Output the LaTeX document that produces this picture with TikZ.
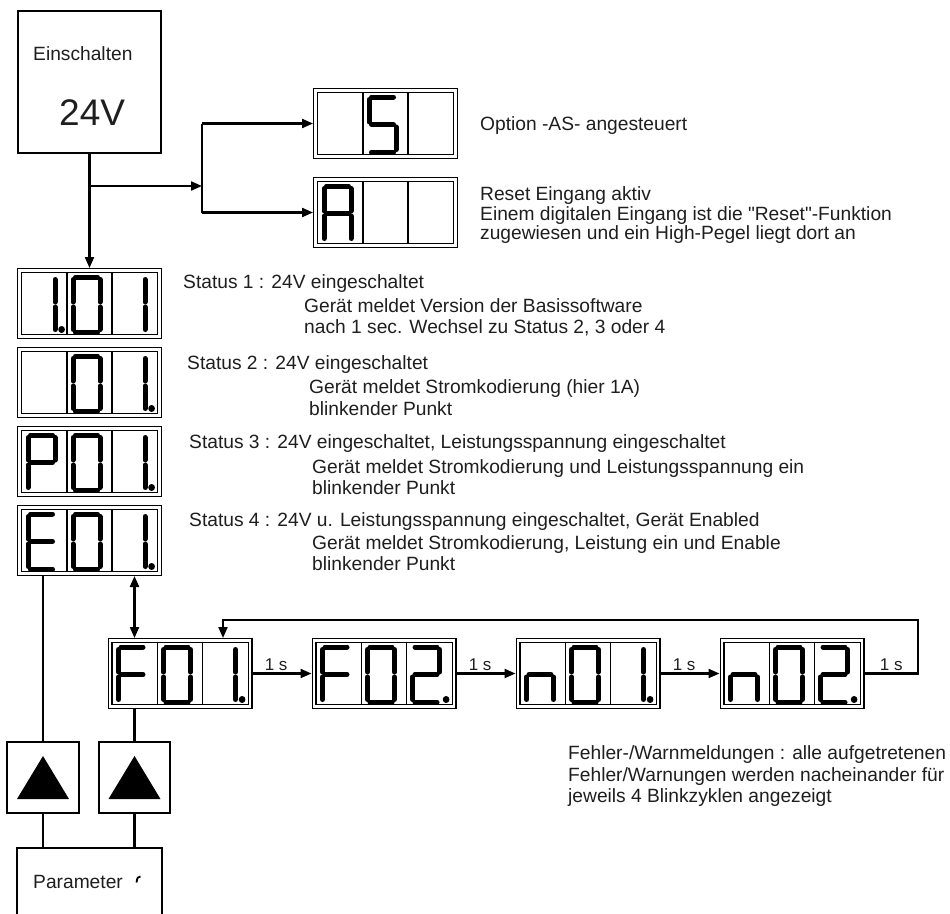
\documentclass[tikz,border=0pt]{standalone}
\usepackage{fontspec}
\setmainfont{Liberation Sans}
\usepackage{tikz}
\usetikzlibrary{arrows.meta, positioning}
\definecolor{labeltext}{RGB}{30,30,30}
\newcommand{\plainquote}{\XeTeXglyph\XeTeXcharglyph"22\relax}
\tikzset{
  disp/.style={draw, line width=1.3pt, double, double distance=2.4pt,
    minimum width=140pt, minimum height=66pt, inner sep=0pt, outer sep=2.5pt},
  box/.style={draw, line width=2pt, inner sep=0pt, outer sep=1pt},
  seg/.style={line width=5pt, line cap=round},
  segp/.style={line width=6.5pt},
  conn/.style={line width=2.1pt},
  arr/.style={conn, -{Triangle[length=11pt,width=9pt]}},
  dblarr/.style={conn, {Triangle[length=11pt,width=9pt]}-{Triangle[length=11pt,width=9pt]}},
  txt/.style={anchor=base west, inner sep=0pt, text=labeltext},
  lbl/.style={above, inner sep=1.5pt, font=\fontsize{17}{20}\selectfont, text=labeltext}
}
% one digit of a display: node, cell (0..2), segments
\newcommand{\segcell}[3]{%
  \begin{scope}[shift={(#1.center)}, shift={(-61.5+45*#2,-26.5)}]
    \coordinate (sa1) at (2.5,0);    \coordinate (sa2) at (24.5,0);
    \coordinate (sb1) at (27,2.5);   \coordinate (sb2) at (27,25);
    \coordinate (sc1) at (27,30);    \coordinate (sc2) at (27,52.5);
    \coordinate (sd1) at (2.5,55);   \coordinate (sd2) at (24.5,55);
    \coordinate (se1) at (0,30);     \coordinate (se2) at (0,52.5);
    \coordinate (sf1) at (0,2.5);    \coordinate (sf2) at (0,25);
    \coordinate (sg1) at (2.5,27.5); \coordinate (sg2) at (24.5,27.5);
    \coordinate (sp1) at (33.5,52.5);\coordinate (sp2) at (33.7,52.5);
    \foreach \s in {#3} {\draw[seg, seg\s/.try] (s\s1) -- (s\s2);}
  \end{scope}}

\begin{document}
\begin{tikzpicture}[x=1pt, y=-1pt, font=\fontsize{19.2}{22}\selectfont]
  \useasboundingbox (0,0) rectangle (950,913);
  \clip (0,0) rectangle (950,913);

  \node[box, minimum width=143pt, minimum height=142pt] (ein) at (89.5,82) {};
  \node[txt] (einT) at (33,60) {Einschalten};
  \node[txt, font=\fontsize{37}{40}\selectfont] (einV) at (59,125) {24V};

  \node[disp] (dS) at (385.5,123.5) {};
  \node[disp, below=18pt of dS] (dA) {};
  \node[disp] (d1) at (89.5,303.5) {};
  \node[disp, below=8pt of d1] (d2) {};
  \node[disp, below=8pt of d2] (d3) {};
  \node[disp, below=8pt of d3] (d4) {};
  \node[disp] (f1) at (180,673.5) {};
  \node[disp, right=59pt of f1] (f2) {};
  \node[disp, right=59pt of f2] (n1) {};
  \node[disp, right=59pt of n1] (n2) {};

  \foreach \d in {dS,dA,d1,d2,d3,d4,f1,f2,n1,n2} {
    \draw[line width=1.5pt] ([shift={(-22.5,-31)}]\d.center) -- ([shift={(-22.5,31)}]\d.center);
    \draw[line width=1.5pt] ([shift={(22.5,-31)}]\d.center) -- ([shift={(22.5,31)}]\d.center);
  }

  \segcell{dS}{1}{a,f,g,c,d}
  \segcell{dA}{0}{a,b,c,e,f,g}
  \segcell{d1}{0}{b,c,p} \segcell{d1}{1}{a,b,c,d,e,f} \segcell{d1}{2}{b,c}
  \segcell{d2}{1}{a,b,c,d,e,f} \segcell{d2}{2}{b,c,p}
  \segcell{d3}{0}{a,b,f,g,e} \segcell{d3}{1}{a,b,c,d,e,f} \segcell{d3}{2}{b,c,p}
  \segcell{d4}{0}{a,f,g,e,d} \segcell{d4}{1}{a,b,c,d,e,f} \segcell{d4}{2}{b,c,p}
  \segcell{f1}{0}{a,f,g,e} \segcell{f1}{1}{a,b,c,d,e,f} \segcell{f1}{2}{b,c,p}
  \segcell{f2}{0}{a,f,g,e} \segcell{f2}{1}{a,b,c,d,e,f} \segcell{f2}{2}{a,b,g,e,d,p}
  \segcell{n1}{0}{e,g,c} \segcell{n1}{1}{a,b,c,d,e,f} \segcell{n1}{2}{b,c,p}
  \segcell{n2}{0}{e,g,c} \segcell{n2}{1}{a,b,c,d,e,f} \segcell{n2}{2}{a,b,g,e,d,p}

  \node[txt] (tS) at (480,130) {Option -AS- angesteuert};
  \node[txt] (tA1) at (480,200) {Reset Eingang aktiv};
  \node[txt] (tA2) at (480,220) {Einem digitalen Eingang ist die \plainquote Reset\plainquote-Funktion};
  \node[txt] (tA3) at (480,239) {zugewiesen und ein High-Pegel liegt dort an};
  \node[txt] (t1a) at (183,288) {Status 1 : 24V eingeschaltet};
  \node[txt] (t1b) at (304,312) {Gerät meldet Version der Basissoftware};
  \node[txt] (t1c) at (304,333) {nach 1 sec. Wechsel zu Status 2, 3 oder 4};
  \node[txt] (t2a) at (187,369) {Status 2 : 24V eingeschaltet};
  \node[txt] (t2b) at (309,393) {Gerät meldet Stromkodierung (hier 1A)};
  \node[txt] (t2c) at (309,415) {blinkender Punkt};
  \node[txt] (t3a) at (189,448) {Status 3 : 24V eingeschaltet, Leistungsspannung eingeschaltet};
  \node[txt] (t3b) at (312,473) {Gerät meldet Stromkodierung und Leistungsspannung ein};
  \node[txt] (t3c) at (312,494) {blinkender Punkt};
  \node[txt] (t4a) at (189,526) {Status 4 : 24V u. Leistungsspannung eingeschaltet, Gerät Enabled};
  \node[txt] (t4b) at (312,549) {Gerät meldet Stromkodierung, Leistung ein und Enable};
  \node[txt] (t4c) at (312,570) {blinkender Punkt};
  \node[txt] (tF1) at (568,759) {Fehler-/Warnmeldungen : alle aufgetretenen};
  \node[txt] (tF2) at (568,781) {Fehler/Warnungen werden nacheinander für};
  \node[txt] (tF3) at (568,802) {jeweils 4 Blinkzyklen angezeigt};

  \node[box, minimum width=72pt, minimum height=71pt] (b1) at (43,777.5) {};
  \node[box, minimum width=71pt, minimum height=71pt] (b2) at (134.5,777.5) {};
  \foreach \b in {b1,b2}
    \fill[shift={(\b.center)}] (0,-21.5) -- (26,21.5) -- (-26,21.5) -- cycle;
  \node[box, anchor=north, minimum width=145pt, minimum height=100pt] (par) at (89.5,847) {};
  \node[txt] (parT) at (33,888) {Parameter};
  \draw[line width=1.8pt] (140.5,876.5) .. controls (137.5,877) .. (136.5,882.5);

  \coordinate (fork) at (202,186);
  \draw[arr] (ein.south) -- (d1.north);
  \draw[arr] (fork -| ein.south) -- (fork);
  \draw[conn] (fork |- dS.west) -- (fork |- dA.west);
  \draw[arr] (fork |- dS.west) -- (dS.west);
  \draw[arr] (fork |- dA.west) -- (dA.west);

  \draw[dblarr] (b2 |- d4.south) -- (b2 |- f1.north);
  \draw[conn] (b1 |- d4.south) -- (b1.north);
  \draw[conn] (b2 |- f1.south) -- (b2.north);
  \draw[conn] (b1.south) -- (b1 |- par.north);
  \draw[conn] (b2.south) -- (b2 |- par.north);

  \draw[arr] (f1.east) -- node[lbl, pos=0.4] (s1) {1 s} (f2.west);
  \draw[arr] (f2.east) -- node[lbl, pos=0.4] (s2) {1 s} (n1.west);
  \draw[arr] (n1.east) -- node[lbl, pos=0.4] (s3) {1 s} (n2.west);
  \coordinate (loop) at (918,620);
  \coordinate (f1tip) at ([xshift=43pt]f1.north);
  \draw[arr] (n2.east) -- node[lbl] (s4) {1 s} (n2.east -| loop) -- (loop)
    -- (loop -| f1tip) -- (f1tip);
\end{tikzpicture}
\end{document}
